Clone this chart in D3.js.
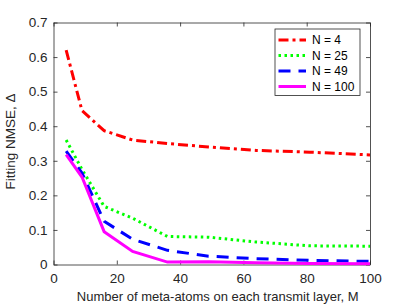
<!DOCTYPE html>
<html>
<head>
<meta charset="utf-8">
<script src="https://cdn.jsdelivr.net/npm/d3@7"></script>
<style>
  body { margin: 0; background: #fff; }
  text { font-family: "Liberation Sans", Arial, sans-serif; }
</style>
</head>
<body>
<div id="chart"></div>
<script>
// number of meta-atoms per layer
const metaAtoms = [4, 9, 16, 25, 36, 49, 64, 81, 100];
const nmseN4 = [0.62, 0.445, 0.387, 0.36, 0.35, 0.34, 0.33, 0.325, 0.317];
const nmseN25 = [0.36, 0.275, 0.168, 0.134, 0.081, 0.079, 0.065, 0.054, 0.053];
const nmseN49 = [0.328, 0.265, 0.125, 0.073, 0.041, 0.024, 0.017, 0.012, 0.009];
const nmseN100 = [0.318, 0.253, 0.095, 0.038, 0.007, 0.008, 0.005, 0.003, 0.002];
const seriesNames = ["N = 4", "N = 25", "N = 49", "N = 100"];
const xTicks = [0, 20, 40, 60, 80, 100];
const yTicks = [0, 0.1, 0.2, 0.3, 0.4, 0.5, 0.6, 0.7];

const totalW = 409, totalH = 307;
const margin = { top: 22.5, right: 39, bottom: 42.5, left: 53.5 };
const width = totalW - margin.left - margin.right;
const height = totalH - margin.top - margin.bottom;

const svg = d3.select("#chart").append("svg")
    .attr("width", totalW)
    .attr("height", totalH);

const g = svg.append("g")
    .attr("transform", "translate(" + margin.left + "," + margin.top + ")");

const x = d3.scaleLinear().domain([0, 100]).range([0, width]);
const y = d3.scaleLinear().domain([0, 0.7]).range([height, 0]);

const axisColor = "#262626";
const tickLen = 4;

// axes with inward ticks, mirrored on top/right
const xAxis = g.append("g")
    .attr("transform", "translate(0," + height + ")")
    .call(d3.axisBottom(x).tickValues(xTicks).tickSizeInner(-tickLen).tickSizeOuter(0).tickPadding(9));
const xTop = g.append("g")
    .call(d3.axisTop(x).tickValues(xTicks).tickSizeInner(-tickLen).tickSizeOuter(0).tickFormat(""));
const yAxis = g.append("g")
    .call(d3.axisLeft(y).tickValues(yTicks).tickSizeInner(-tickLen).tickSizeOuter(0).tickPadding(6)
        .tickFormat(d => d === 0 ? "0" : d3.format(".1f")(d)));
const yRight = g.append("g")
    .attr("transform", "translate(" + width + ",0)")
    .call(d3.axisRight(y).tickValues(yTicks).tickSizeInner(-tickLen).tickSizeOuter(0).tickFormat(""));

[xAxis, xTop, yAxis, yRight].forEach(a => {
    a.select(".domain").attr("stroke", axisColor).attr("stroke-width", 0.8);
    a.selectAll(".tick line").attr("stroke", axisColor).attr("stroke-width", 0.8);
    a.selectAll(".tick text").attr("fill", axisColor).style("font-size", "13.5px");
});

const series = [
    { name: seriesNames[0], values: nmseN4, color: "#ff0000", dash: "10,4,3,4" },
    { name: seriesNames[1], values: nmseN25, color: "#00ff00", dash: "2.5,3.5" },
    { name: seriesNames[2], values: nmseN49, color: "#0000ff", dash: "12,8" },
    { name: seriesNames[3], values: nmseN100, color: "#ff00ff", dash: null }
];

const line = d3.line()
    .x((d, i) => x(metaAtoms[i]))
    .y(d => y(d));

g.append("defs").append("clipPath").attr("id", "clip")
    .append("rect").attr("x", 0).attr("y", 0).attr("width", width).attr("height", height + 2);

series.forEach(s => {
    g.append("path")
        .datum(s.values)
        .attr("clip-path", "url(#clip)")
        .attr("fill", "none")
        .attr("stroke", s.color)
        .attr("stroke-width", 3)
        .attr("stroke-dasharray", s.dash)
        .attr("d", line);
});

// legend
const legend = g.append("g").attr("transform", "translate(" + (275 - margin.left) + "," + (29 - margin.top) + ")");
legend.append("rect")
    .attr("width", 85).attr("height", 66.5)
    .attr("fill", "#fff")
    .attr("stroke", axisColor).attr("stroke-width", 0.8);
series.forEach((s, i) => {
    const ly = 11 + i * 15.5;
    legend.append("line")
        .attr("x1", 3.5).attr("x2", 31)
        .attr("y1", ly).attr("y2", ly)
        .attr("stroke", s.color)
        .attr("stroke-width", 3)
        .attr("stroke-dasharray", s.dash);
    legend.append("text")
        .attr("x", 37).attr("y", ly)
        .attr("dy", "0.35em")
        .attr("fill", "#000")
        .style("font-size", "12px")
        .text(s.name);
});

// axis labels
g.append("text")
    .attr("x", width / 2 + 6)
    .attr("y", height + 36)
    .attr("text-anchor", "middle")
    .attr("fill", axisColor)
    .style("font-size", "13px")
    .text("Number of meta-atoms on each transmit layer, M");

g.append("text")
    .attr("transform", "rotate(-90)")
    .attr("x", -height / 2 + 2)
    .attr("y", -39)
    .attr("text-anchor", "middle")
    .attr("fill", axisColor)
    .style("font-size", "13.5px")
    .text("Fitting NMSE, Δ");
</script>
</body>
</html>
